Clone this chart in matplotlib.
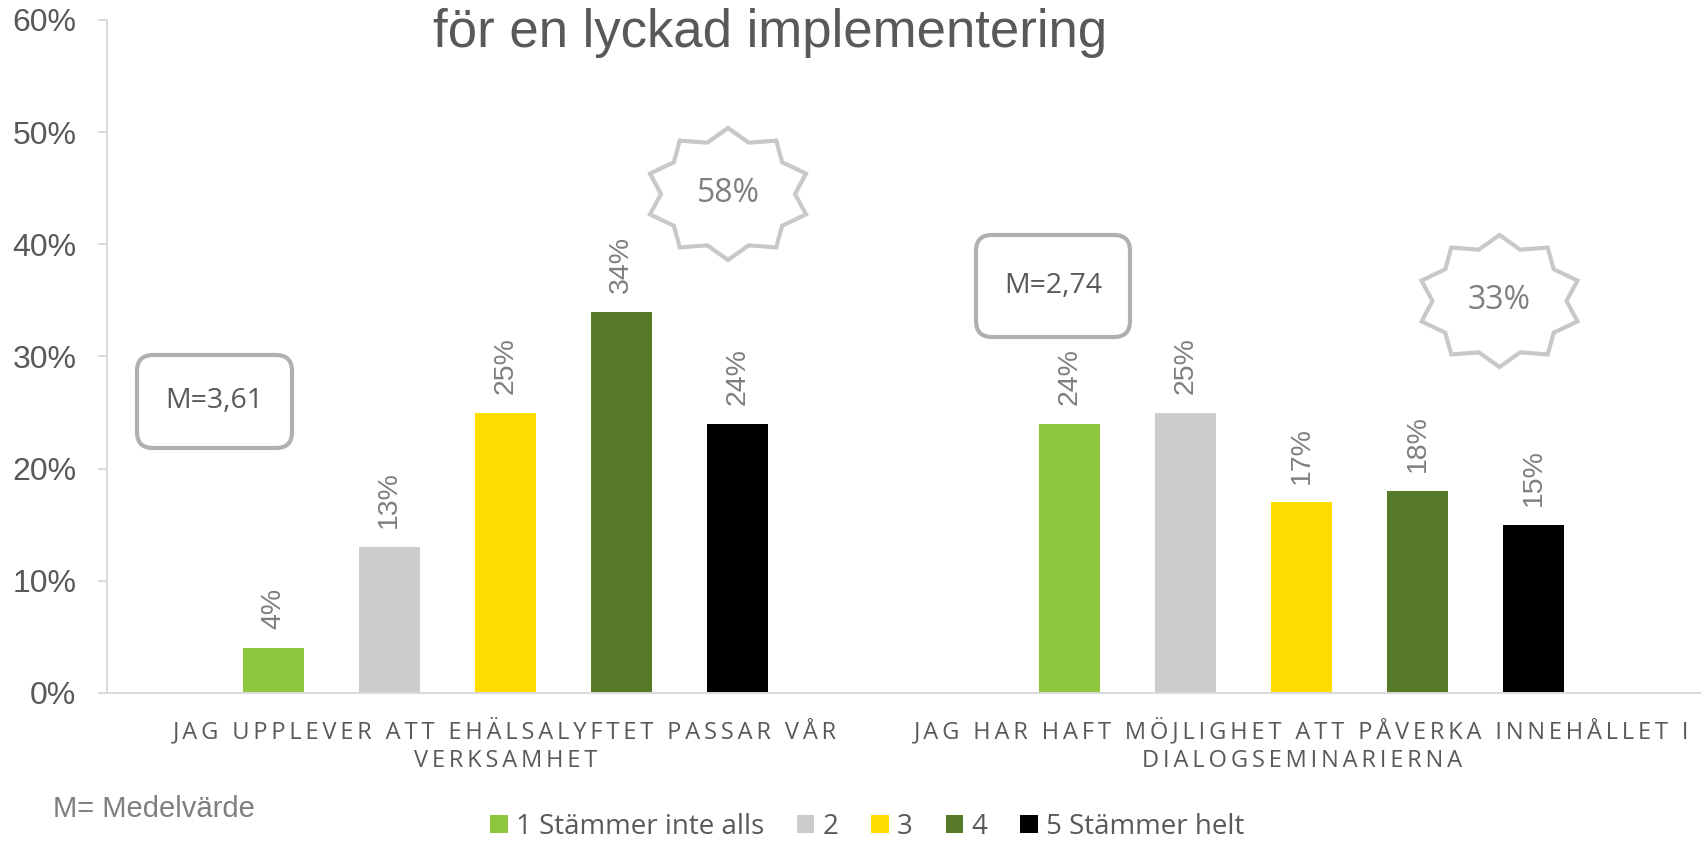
import matplotlib
matplotlib.use("Agg")
import matplotlib.pyplot as plt
import numpy as np
from matplotlib.patches import FancyBboxPatch, Polygon, Patch

# ---------------- data ----------------
categories = [
    "JAG UPPLEVER ATT EHÄLSALYFTET PASSAR VÅR\nVERKSAMHET",
    "JAG HAR HAFT MÖJLIGHET ATT PÅVERKA INNEHÅLLET I\nDIALOGSEMINARIERNA",
]
series_names = ["1 Stämmer inte alls", "2", "3", "4", "5 Stämmer helt"]
s1_values = [4, 24]
s2_values = [13, 25]
s3_values = [25, 17]
s4_values = [34, 18]
s5_values = [24, 15]
series_colors = ["#8DC63F", "#CCCCCC", "#FFDD00", "#567A27", "#000000"]
mean_labels = ["M=3,61", "M=2,74"]
top_share_labels = ["58%", "33%"]
yticks = [0, 10, 20, 30, 40, 50, 60]
title = "för en lyckad implementering"
footnote = "M= Medelvärde"

all_values = [s1_values, s2_values, s3_values, s4_values, s5_values]

# ---------------- figure ----------------
W, H = 1705, 841
fig = plt.figure(figsize=(W / 100, H / 100), dpi=100)
ax_l, ax_r, ax_b, ax_t = 107, 1700, 693, 20
ax = fig.add_axes([ax_l / W, 1 - ax_b / H, (ax_r - ax_l) / W, (ax_b - ax_t) / H])

SANS = ["Liberation Sans", "DejaVu Sans"]
CAL = ["Open Sans", "DejaVu Sans"]
DARK = "#595959"
MID = "#7F7F7F"
AXC = "#D9D9D9"

offset = 0.1457
width = 0.0766
x = np.arange(len(categories))
for i, (vals, name, col) in enumerate(zip(all_values, series_names, series_colors)):
    pos = x + (i - 2) * offset
    ax.bar(pos, vals, width=width, color=col, label=name, linewidth=0)
    for px_, v in zip(pos, vals):
        ax.annotate(f"{v}%", xy=(px_, v), xytext=(0, 13.5), textcoords="offset points",
                    rotation=90, ha="center", va="bottom", fontsize=20.5,
                    color=MID, family=SANS)

ax.set_xlim(-0.5, len(categories) - 0.5)
ax.set_ylim(0, 60)
ax.set_yticks(yticks)
ax.set_yticklabels([f"{t}%" for t in yticks], fontsize=23, color=DARK, family=SANS)
ax.tick_params(axis="y", length=6.5, width=1.44, color=AXC, pad=15.5)
ax.set_xticks([])
for s in ["top", "right"]:
    ax.spines[s].set_visible(False)
for s in ["left", "bottom"]:
    ax.spines[s].set_color(AXC)
    ax.spines[s].set_linewidth(1.44)

# category labels (letter-spaced)
xtr = ax.get_xaxis_transform()
line_y = [(ax_b - 738) / (ax_b - ax_t), (ax_b - 767) / (ax_b - ax_t)]
for xi, cat in zip(x, categories):
    for ly, line in zip(line_y, cat.split("\n")):
        ax.text(xi, ly, "\u2009".join(line), transform=xtr, ha="center", va="baseline",
                fontsize=17, color=DARK, family=CAL, clip_on=False)

# mean boxes (axes fraction)
axw, axh = ax_r - ax_l, ax_b - ax_t
def fx(p):
    return (p - ax_l) / axw
def fy(p):
    return (ax_b - p) / axh

boxes_px = [(137, 292, 355, 448), (976, 1130, 235, 337)]
r = 16 / axw
for (x0, x1, y0, y1), lab in zip(boxes_px, mean_labels):
    bx = FancyBboxPatch((fx(x0), fy(y1)), fx(x1) - fx(x0), fy(y0) - fy(y1),
                        boxstyle=f"round,pad=0,rounding_size={r}",
                        mutation_aspect=axw / axh,
                        transform=ax.transAxes, facecolor="white",
                        edgecolor="#B0B0B0", linewidth=3.0, clip_on=False, zorder=5)
    ax.add_patch(bx)
    ax.text((fx(x0) + fx(x1)) / 2, (fy(y0) + fy(y1)) / 2, lab, transform=ax.transAxes,
            ha="center", va="center", fontsize=20.5, color=DARK, family=CAL, zorder=6)

# starbursts
stars_px = [(728, 194), (1499.5, 301)]
ro_x, ro_y, ri_x, ri_y = 82, 66, 67, 54
for (cx, cy), lab in zip(stars_px, top_share_labels):
    pts = []
    for k in range(10):
        a_out = np.deg2rad(90 + 36 * k)
        a_in = np.deg2rad(90 + 18 + 36 * k)
        pts.append((fx(cx + ro_x * np.cos(a_out)), fy(cy - ro_y * np.sin(a_out))))
        pts.append((fx(cx + ri_x * np.cos(a_in)), fy(cy - ri_y * np.sin(a_in))))
    poly = Polygon(pts, closed=True, transform=ax.transAxes, facecolor="white",
                   edgecolor="#C8C8C8", linewidth=3.0, joinstyle="miter",
                   clip_on=False, zorder=5)
    ax.add_patch(poly)
    ax.text(fx(cx), fy(cy), lab, transform=ax.transAxes, ha="center", va="center",
            fontsize=23, color=MID, family=CAL, zorder=6)

# title (cut at top in the original)
fig.text(770 / W, 1 - 47 / H, title, ha="center", va="baseline", fontsize=38,
         color=DARK, family=SANS)

# footnote
fig.text(53 / W, 1 - 817 / H, footnote, ha="left", va="baseline", fontsize=21,
         color=MID, family=SANS)

# legend
handles = [Patch(facecolor=c, edgecolor="none") for c in series_colors]
em = 20 * 100 / 72
leg = fig.legend(handles, series_names, ncol=5, loc="center",
                 bbox_to_anchor=(867 / W, 1 - 827 / H), frameon=False,
                 prop={"family": CAL, "size": 20},
                 handlelength=17.6 / em, handleheight=17.6 / em,
                 handletextpad=8 / em, columnspacing=33 / em, borderpad=0,
                 borderaxespad=0)
for t in leg.get_texts():
    t.set_color(DARK)

fig.savefig("out.png", dpi=100)
